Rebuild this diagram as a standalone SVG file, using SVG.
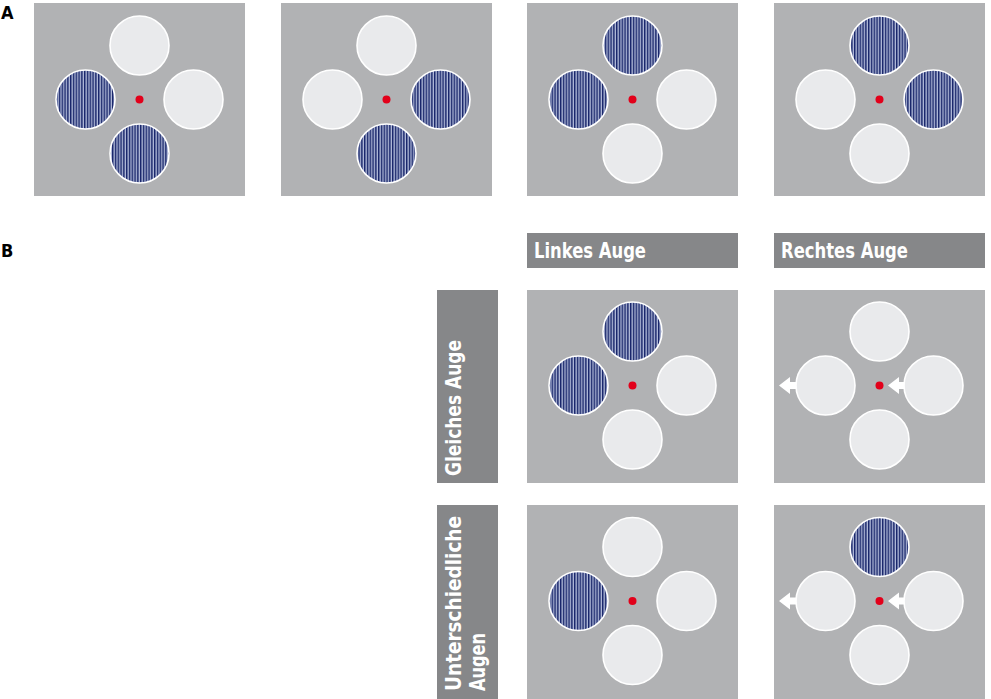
<svg xmlns="http://www.w3.org/2000/svg" width="991" height="699" viewBox="0 0 991 699">
<style>
.bg{fill:#ffffff}
.panel{fill:#b1b2b4}
.pl{fill:#e9eaec;stroke:#ffffff;stroke-width:1.6}
.st{fill:url(#stripes);stroke:#ffffff;stroke-width:1.6}
.dot{fill:#e2001a}
.arr{fill:#ffffff}
.bar{fill:#868789}
.lbl{fill:#ffffff;font-family:"Liberation Sans Narrow","DejaVu Sans Condensed","Liberation Sans",sans-serif;font-weight:bold;font-size:21.5px}
.sec{fill:#000000;font-family:"Liberation Sans Narrow","DejaVu Sans Condensed","Liberation Sans",sans-serif;font-weight:bold;font-size:18px}
</style>
<defs>
<pattern id="stripes" patternUnits="userSpaceOnUse" width="2.8" height="10">
<rect x="0" y="0" width="2.8" height="10" fill="#b0b9d8"/>
<rect x="0" y="0" width="1.45" height="10" fill="#18256a"/>
</pattern>
</defs>
<rect class="bg" x="0" y="0" width="991" height="699"/>
<text class="sec" x="1" y="18.5">A</text>
<text class="sec" x="1" y="257">B</text>

<g id="panelA1">
<rect class="panel" x="34" y="3" width="211" height="193"/>
<circle class="pl" cx="139.5" cy="45.5" r="29.5"/>
<circle class="st" cx="85.5" cy="99.5" r="29.5"/>
<circle class="pl" cx="193.5" cy="99.5" r="29.5"/>
<circle class="st" cx="139.5" cy="153.5" r="29.5"/>
<circle class="dot" cx="139.5" cy="99.5" r="4"/>
</g>
<g id="panelA2">
<rect class="panel" x="281" y="3" width="211" height="193"/>
<circle class="pl" cx="386.5" cy="45.5" r="29.5"/>
<circle class="pl" cx="332.5" cy="99.5" r="29.5"/>
<circle class="st" cx="440.5" cy="99.5" r="29.5"/>
<circle class="st" cx="386.5" cy="153.5" r="29.5"/>
<circle class="dot" cx="386.5" cy="99.5" r="4"/>
</g>
<g id="panelA3">
<rect class="panel" x="527" y="3" width="211" height="193"/>
<circle class="st" cx="632.5" cy="45.5" r="29.5"/>
<circle class="st" cx="578.5" cy="99.5" r="29.5"/>
<circle class="pl" cx="686.5" cy="99.5" r="29.5"/>
<circle class="pl" cx="632.5" cy="153.5" r="29.5"/>
<circle class="dot" cx="632.5" cy="99.5" r="4"/>
</g>
<g id="panelA4">
<rect class="panel" x="774" y="3" width="211" height="193"/>
<circle class="st" cx="879.5" cy="45.5" r="29.5"/>
<circle class="pl" cx="825.5" cy="99.5" r="29.5"/>
<circle class="st" cx="933.5" cy="99.5" r="29.5"/>
<circle class="pl" cx="879.5" cy="153.5" r="29.5"/>
<circle class="dot" cx="879.5" cy="99.5" r="4"/>
</g>

<g id="labelLinkes">
<rect class="bar" x="527" y="233" width="211" height="35"/>
<text class="lbl" x="534" y="258" textLength="112" lengthAdjust="spacingAndGlyphs">Linkes Auge</text>
</g>
<g id="labelRechtes">
<rect class="bar" x="774" y="233" width="211" height="35"/>
<text class="lbl" x="781" y="258" textLength="127" lengthAdjust="spacingAndGlyphs">Rechtes Auge</text>
</g>
<g id="labelGleiches">
<rect class="bar" x="437" y="290" width="61" height="193"/>
<text class="lbl" transform="translate(461,476) rotate(-90)" x="0" y="0" textLength="136" lengthAdjust="spacingAndGlyphs">Gleiches Auge</text>
</g>
<g id="labelUnterschiedliche">
<rect class="bar" x="437" y="505" width="61" height="194"/>
<text class="lbl" transform="translate(461,691) rotate(-90)" x="0" y="0" textLength="175" lengthAdjust="spacingAndGlyphs">Unterschiedliche</text>
<text class="lbl" transform="translate(485,691) rotate(-90)" x="0" y="0" textLength="58" lengthAdjust="spacingAndGlyphs">Augen</text>
</g>

<g id="panelB1L">
<rect class="panel" x="527" y="290" width="211" height="193"/>
<circle class="st" cx="632.5" cy="331.5" r="29.5"/>
<circle class="st" cx="578.5" cy="385.5" r="29.5"/>
<circle class="pl" cx="686.5" cy="385.5" r="29.5"/>
<circle class="pl" cx="632.5" cy="439.5" r="29.5"/>
<circle class="dot" cx="632.5" cy="385.5" r="4"/>
</g>
<g id="panelB1R">
<rect class="panel" x="774" y="290" width="211" height="193"/>
<polygon class="arr" points="779,385.5 790,377 790,382 805,382 805,389 790,389 790,394"/>
<polygon class="arr" points="888,385.5 899,377 899,382 914,382 914,389 899,389 899,394"/>
<circle class="pl" cx="879.5" cy="331.5" r="29.5"/>
<circle class="pl" cx="825.5" cy="385.5" r="29.5"/>
<circle class="pl" cx="933.5" cy="385.5" r="29.5"/>
<circle class="pl" cx="879.5" cy="439.5" r="29.5"/>
<circle class="dot" cx="879.5" cy="385.5" r="4"/>
</g>
<g id="panelB2L">
<rect class="panel" x="527" y="505" width="211" height="194"/>
<circle class="pl" cx="632.5" cy="547" r="29.5"/>
<circle class="st" cx="578.5" cy="601" r="29.5"/>
<circle class="pl" cx="686.5" cy="601" r="29.5"/>
<circle class="pl" cx="632.5" cy="655" r="29.5"/>
<circle class="dot" cx="632.5" cy="601" r="4"/>
</g>
<g id="panelB2R">
<rect class="panel" x="774" y="505" width="211" height="194"/>
<polygon class="arr" points="779,601 790,592.5 790,597.5 805,597.5 805,604.5 790,604.5 790,609.5"/>
<polygon class="arr" points="888,601 899,592.5 899,597.5 914,597.5 914,604.5 899,604.5 899,609.5"/>
<circle class="st" cx="879.5" cy="547" r="29.5"/>
<circle class="pl" cx="825.5" cy="601" r="29.5"/>
<circle class="pl" cx="933.5" cy="601" r="29.5"/>
<circle class="pl" cx="879.5" cy="655" r="29.5"/>
<circle class="dot" cx="879.5" cy="601" r="4"/>
</g>
<g id="connectors"></g>
</svg>
